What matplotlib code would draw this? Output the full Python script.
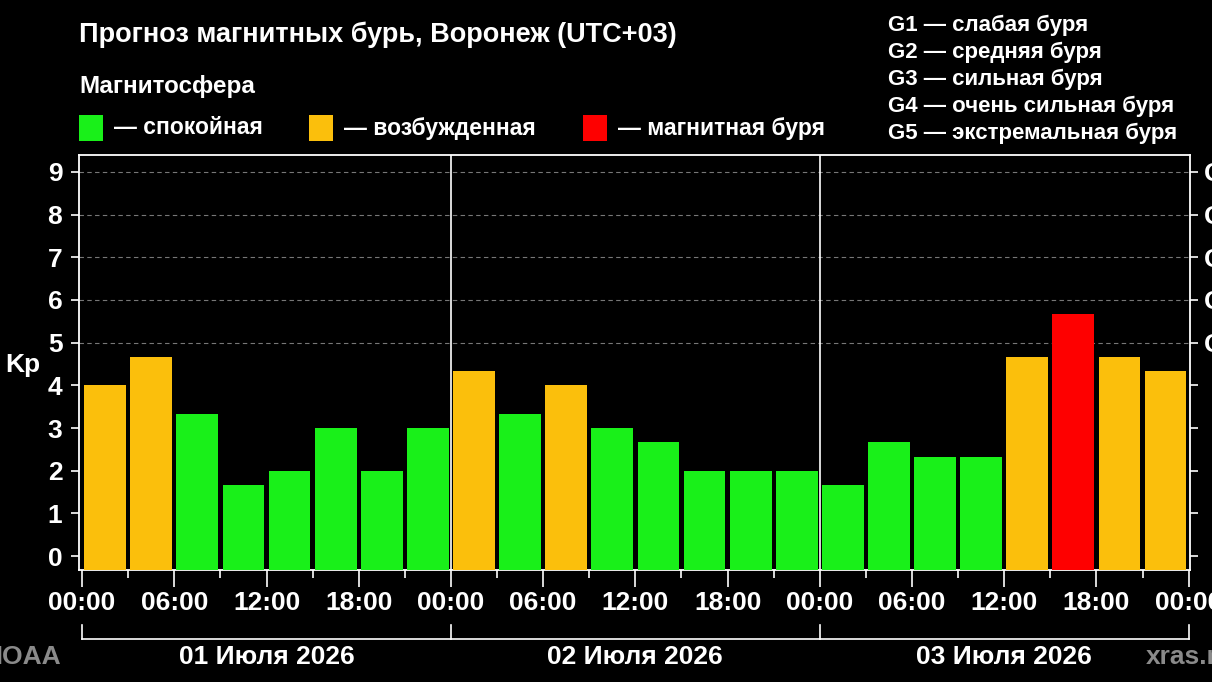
import matplotlib.pyplot as plt
import numpy as np

plt.rcParams['font.family'] = ['Liberation Sans', 'DejaVu Sans']

# Kp forecast, 3-hour intervals over three days
days = ['01 Июля 2026', '02 Июля 2026', '03 Июля 2026']
kp_values = [4.0, 4.67, 3.33, 1.67, 2.0, 3.0, 2.0, 3.0,
             4.33, 3.33, 4.0, 3.0, 2.67, 2.0, 2.0, 2.0,
             1.67, 2.67, 2.33, 2.33, 4.67, 5.67, 4.67, 4.33]
hour_labels = ['00:00', '06:00', '12:00', '18:00']
g_labels = ['G1', 'G2', 'G3', 'G4', 'G5']
g_texts = ['G1 — слабая буря', 'G2 — средняя буря', 'G3 — сильная буря',
           'G4 — очень сильная буря', 'G5 — экстремальная буря']
legend_items = [('— спокойная', '#19f019'), ('— возбужденная', '#fbbf0c'),
                ('— магнитная буря', '#fe0000')]


def kp_color(v):
    if v >= 5:
        return '#fe0000'
    if v >= 4:
        return '#fbbf0c'
    return '#19f019'


fig = plt.figure(figsize=(12.12, 6.82), dpi=100, facecolor='black')
ax = fig.add_axes([0.0652, 0.164, 0.9168, 0.609], facecolor='black')

ymin, ymax = -0.33, 9.4
x = np.arange(len(kp_values)) * 3 + 1.5
heights = np.array(kp_values) - ymin
ax.bar(x, heights, width=2.72, bottom=ymin,
       color=[kp_color(v) for v in kp_values], zorder=3)

ax.set_xlim(-0.2, 72.1)
ax.set_ylim(ymin, ymax)

# grid only for storm levels
for lvl in range(5, 10):
    ax.axhline(lvl, color='#777777', lw=0.8, ls=(0, (4, 3)), zorder=1)
# day separators
for d in (24, 48):
    ax.axvline(d, color='white', lw=1.2, zorder=4)

for s in ax.spines.values():
    s.set_color('white')
    s.set_linewidth(1.3)

ax.set_yticks(range(10))
ax.set_yticklabels([str(i) for i in range(10)])
ax.tick_params(axis='y', colors='white', labelsize=19, length=6, width=1.2,
               direction='out', pad=6)
for lab in ax.get_yticklabels():
    lab.set_fontweight('bold')

ax.set_xticks(np.arange(0, 73, 6))
ax.set_xticklabels([hour_labels[(h // 6) % 4] for h in range(0, 73, 6)])
ax.set_xticks(np.arange(3, 72, 6), minor=True)
ax.tick_params(axis='x', which='major', colors='white', labelsize=19,
               length=12, width=1.2, direction='out', pad=3)
ax.tick_params(axis='x', which='minor', colors='white', length=6, width=1.2,
               direction='out')
for lab in ax.get_xticklabels():
    lab.set_fontweight('bold')

# right axis with G levels
ax2 = ax.twinx()
ax2.set_ylim(ymin, ymax)
ax2.set_yticks(range(10))
ax2.set_yticklabels([''] * 5 + g_labels)
ax2.tick_params(axis='y', colors='white', labelsize=19, length=6, width=1.2,
                direction='out', pad=4)
for lab in ax2.get_yticklabels():
    lab.set_fontweight('bold')
for s in ax2.spines.values():
    s.set_visible(False)

ax.set_ylabel('Kp', color='white', fontsize=19, fontweight='bold',
              rotation=0, va='center', ha='center')
ax.yaxis.set_label_coords(-0.051, 0.494)

# day brackets below the hour labels
trans = ax.get_xaxis_transform()
ax.plot([0, 72], [-0.166, -0.166], color='white', lw=1.2, transform=trans,
        clip_on=False)
for d in (0, 24, 48, 72):
    ax.plot([d, d], [-0.166, -0.133], color='white', lw=1.2, transform=trans,
            clip_on=False)
for i, day in enumerate(days):
    ax.text(12 + 24 * i, -0.21, day, color='white', fontsize=19,
            fontweight='bold', ha='center', va='center', transform=trans)

# header
fig.text(0.0652, 1 - 35 / 682, 'Прогноз магнитных бурь, Воронеж (UTC+03)',
         color='white', fontsize=19.5, fontweight='bold', va='center')
fig.text(0.0652, 1 - 86 / 682, 'Магнитосфера', color='white', fontsize=17.5,
         fontweight='bold', va='center')
sq_x = [79, 309, 583]
for (label, col), px in zip(legend_items, sq_x):
    fig.patches.append(plt.Rectangle((px / 1212, 1 - 141 / 682), 24 / 1212,
                                     26 / 682, transform=fig.transFigure,
                                     facecolor=col, edgecolor='none'))
    fig.text((px + 35) / 1212, 1 - 128 / 682, label, color='white',
             fontsize=16.5, fontweight='bold', va='center')

for i, t in enumerate(g_texts):
    fig.text(888 / 1212, 1 - (25 + 27 * i) / 682, t, color='white',
             fontsize=16, fontweight='bold', va='center')

# watermarks
fig.text(-0.014, 1 - 657 / 682, 'NOAA', color='#8a8a8a', fontsize=19,
         fontweight='bold', va='center')
fig.text(1146 / 1212, 1 - 657 / 682, 'xras.ru', color='#8a8a8a', fontsize=19,
         fontweight='bold', va='center')

fig.savefig('out.png', dpi=100, facecolor='black')
